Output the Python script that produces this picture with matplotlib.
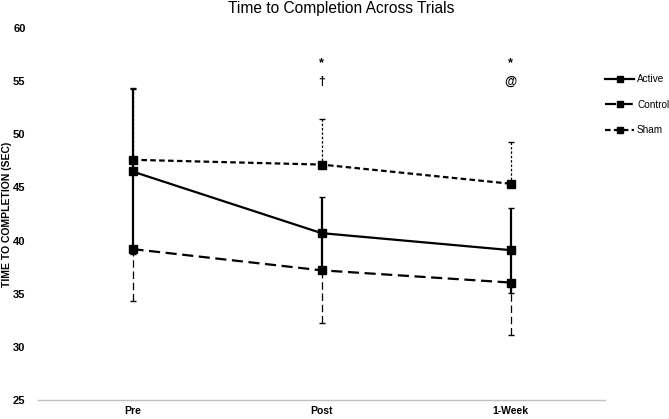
import matplotlib
matplotlib.use("Agg")
import matplotlib.pyplot as plt
import numpy as np

plt.rcParams['font.family'] = ['Liberation Sans', 'DejaVu Sans']

categories = ["Pre", "Post", "1-Week"]
active = [46.5, 40.7, 39.1]
active_err = [7.8, 3.4, 4.0]
control = [39.2, 37.2, 36.05]
control_err = [4.9, 4.95, 4.95]
sham = [47.6, 47.15, 45.35]
sham_err = [6.8, 4.3, 3.9]
annotations = [(1, 56.7, "*"), (1, 54.9, "\u2020"), (2, 56.7, "*"), (2, 54.9, "@")]

fig = plt.figure(figsize=(6.69, 4.19), dpi=100)
ax = fig.add_axes([38/669, 1-400/419, (605-38)/669, (400-28)/419])
x = np.arange(len(categories))

# error bars
eb = ax.errorbar(x, active, yerr=active_err, fmt='none', ecolor='black', elinewidth=1.6, capsize=2.5, capthick=1)
eb = ax.errorbar(x, control, yerr=[control_err, [0]*3], fmt='none', ecolor='black', elinewidth=0.9, capsize=2.5, capthick=1)
eb[2][0].set_linestyle((0, (6, 3)))
eb = ax.errorbar(x, sham, yerr=[[0]*3, sham_err], fmt='none', ecolor='black', elinewidth=0.9, capsize=2.5, capthick=1)
eb[2][0].set_linestyle((0, (2, 1.5)))

ax.plot(x, active, color='black', lw=1.6, marker='s', ms=6, label='Active')
ax.plot(x, control, color='black', lw=1.6, marker='s', ms=6, linestyle=(0, (5, 2.5)), label='Control')
ax.plot(x, sham, color='black', lw=1.6, marker='s', ms=6, linestyle=(0, (2.5, 1.5)), label='Sham')

for xi, yi, t in annotations:
    ax.text(xi, yi, t, ha='center', va='center', fontsize=9, fontweight='bold')

ax.set_xlim(-0.5, 2.5)
ax.set_ylim(25, 60)
ax.set_yticks(np.arange(25, 61, 5))
ax.set_xticks(x)
ax.set_xticklabels(categories, fontsize=7.5, fontweight='bold')
for lab in ax.get_yticklabels():
    lab.set_fontsize(8)
    lab.set_fontweight('bold')
ax.tick_params(axis='both', length=0)
ax.tick_params(axis='y', pad=9)
ax.tick_params(axis='x', pad=4)
for s in ['top', 'right', 'left']:
    ax.spines[s].set_visible(False)
ax.spines['bottom'].set_color('#c0c0c0')
ax.spines['bottom'].set_linewidth(1)

ax.set_ylabel("TIME TO COMPLETION (SEC)", fontsize=7.5, fontweight='bold')
ax.yaxis.set_label_coords((2 - 38) / 567, 0.5)
ax.yaxis.label.set_va('top')
fig.text(341/669, 1 - 9/419, "Time to Completion Across Trials", ha='center', va='center', fontsize=11.2)

leg = ax.legend(loc='upper left', bbox_to_anchor=(1.0, 0.876), frameon=False,
                fontsize=7.2, handlelength=2.9, labelspacing=1.55, handletextpad=0.3, numpoints=1,
                borderaxespad=0, borderpad=0)
for h in leg.legend_handles:
    h.set_markersize(4)

fig.savefig("out.png", dpi=100)
